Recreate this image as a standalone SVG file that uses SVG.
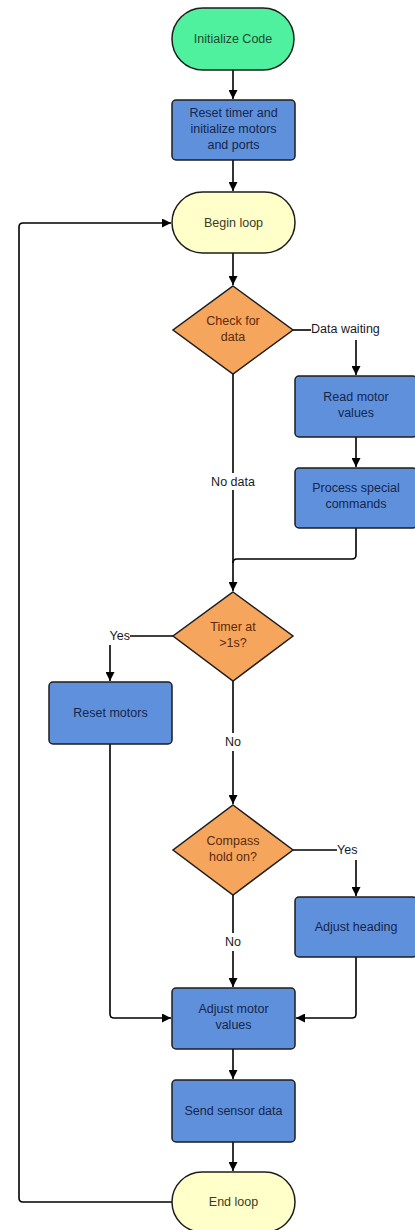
<svg xmlns="http://www.w3.org/2000/svg" width="415" height="1230" viewBox="0 0 415 1230">
  <defs>
    <marker id="arrow" viewBox="0 0 10 10" refX="10" refY="5" markerWidth="9" markerHeight="9" markerUnits="userSpaceOnUse" orient="auto">
      <path d="M0,0 L10,5 L0,10 Z" fill="#000"/>
    </marker>
    <style>
      .node text { font-family: "Liberation Sans", Arial, sans-serif; font-size: 12.5px; text-anchor: middle; }
      .term-start { fill: #4ff09e; stroke: #1d1d1d; stroke-width: 1.5; }
      .term-loop { fill: #ffffc9; stroke: #1d1d1d; stroke-width: 1.5; }
      .proc { fill: #5f90db; stroke: #1d1d1d; stroke-width: 1.5; }
      .dec { fill: #f6a55d; stroke: #1d1d1d; stroke-width: 1.5; }
      .t-green { fill: #1f4a30; }
      .t-blue { fill: #15264d; }
      .t-orange { fill: #5a2a0a; }
      .t-yellow { fill: #3a3a2a; }
      .conn path { fill: none; stroke: #000; stroke-width: 1.6; }
      .conn .arr { marker-end: url(#arrow); }
      .lbl { font-family: "Liberation Sans", Arial, sans-serif; font-size: 12.5px; fill: #1a1a1a; }
      .mid { text-anchor: middle; }
      .start { text-anchor: start; }
      .end { text-anchor: end; }
    </style>
  </defs>
  <rect width="415" height="1230" fill="#ffffff"/>

  <g id="connectors" class="conn">
    <path class="arr" d="M233,70 V99"/>
    <path class="arr" d="M233,160 V191"/>
    <path class="arr" d="M233,253 V285"/>
    <path d="M293,330 H311"/>
    <path class="arr" d="M356,340 V375"/>
    <path class="arr" d="M356,437 V467"/>
    <path d="M233,374 V473"/>
    <path d="M233,490 V559"/>
    <path d="M356,528 V555 Q356,559 352,559 H237 Q233,559 233,563"/>
    <path class="arr" d="M233,559 V591"/>
    <path d="M173,636 H130"/>
    <path class="arr" d="M110,645 V681"/>
    <path d="M233,681 V733"/>
    <path class="arr" d="M233,751 V804"/>
    <path d="M293,850 H337"/>
    <path class="arr" d="M356,860 V896"/>
    <path d="M233,895 V933"/>
    <path class="arr" d="M233,951 V987"/>
    <path class="arr" d="M110,744 V1014 Q110,1018 114,1018 H171"/>
    <path class="arr" d="M356,957 V1014 Q356,1018 352,1018 H296"/>
    <path class="arr" d="M233,1049 V1079"/>
    <path class="arr" d="M233,1142 V1171"/>
    <path class="arr" d="M172,1202 H23 Q19,1202 19,1198 V227 Q19,223 23,223 H171"/>
  </g>

  <g id="edge-labels">
    <text class="lbl start" x="311" y="333">Data waiting</text>
    <text class="lbl mid" x="233" y="486">No data</text>
    <text class="lbl end" x="130" y="640">Yes</text>
    <text class="lbl mid" x="233" y="746">No</text>
    <text class="lbl start" x="337" y="854">Yes</text>
    <text class="lbl mid" x="233" y="946">No</text>
  </g>

  <g id="initialize-code" class="node">
    <rect class="term-start" x="172" y="8" width="122" height="62" rx="31"/>
    <text class="t-green" x="233" y="43">Initialize Code</text>
  </g>

  <g id="reset-timer" class="node">
    <rect class="proc" x="172" y="100" width="123" height="60" rx="4"/>
    <text class="t-blue" x="233.5" y="117">Reset timer and</text>
    <text class="t-blue" x="233.5" y="133">initialize motors</text>
    <text class="t-blue" x="233.5" y="149">and ports</text>
  </g>

  <g id="begin-loop" class="node">
    <rect class="term-loop" x="172" y="192" width="123" height="61" rx="30.5"/>
    <text class="t-yellow" x="233.5" y="227">Begin loop</text>
  </g>

  <g id="check-data" class="node">
    <polygon class="dec" points="233,286 293,330 233,374 173,330"/>
    <text class="t-orange" x="233" y="325">Check for</text>
    <text class="t-orange" x="233" y="341">data</text>
  </g>

  <g id="read-motor" class="node">
    <rect class="proc" x="295" y="376" width="122" height="61" rx="4"/>
    <text class="t-blue" x="356" y="401">Read motor</text>
    <text class="t-blue" x="356" y="417">values</text>
  </g>

  <g id="process-special" class="node">
    <rect class="proc" x="295" y="468" width="122" height="60" rx="4"/>
    <text class="t-blue" x="356" y="492">Process special</text>
    <text class="t-blue" x="356" y="508">commands</text>
  </g>

  <g id="timer-check" class="node">
    <polygon class="dec" points="233,592 293,636 233,681 173,636"/>
    <text class="t-orange" x="233" y="631">Timer at</text>
    <text class="t-orange" x="233" y="647">&gt;1s?</text>
  </g>

  <g id="reset-motors" class="node">
    <rect class="proc" x="49" y="682" width="123" height="62" rx="4"/>
    <text class="t-blue" x="110.5" y="717">Reset motors</text>
  </g>

  <g id="compass-hold" class="node">
    <polygon class="dec" points="233,805 293,850 233,895 173,850"/>
    <text class="t-orange" x="233" y="845">Compass</text>
    <text class="t-orange" x="233" y="861">hold on?</text>
  </g>

  <g id="adjust-heading" class="node">
    <rect class="proc" x="295" y="897" width="122" height="60" rx="4"/>
    <text class="t-blue" x="356" y="931">Adjust heading</text>
  </g>

  <g id="adjust-motor" class="node">
    <rect class="proc" x="172" y="988" width="123" height="61" rx="4"/>
    <text class="t-blue" x="233.5" y="1013">Adjust motor</text>
    <text class="t-blue" x="233.5" y="1029">values</text>
  </g>

  <g id="send-sensor" class="node">
    <rect class="proc" x="172" y="1080" width="123" height="62" rx="4"/>
    <text class="t-blue" x="233.5" y="1115">Send sensor data</text>
  </g>

  <g id="end-loop" class="node">
    <rect class="term-loop" x="172" y="1172" width="123" height="60" rx="30"/>
    <text class="t-yellow" x="233.5" y="1206">End loop</text>
  </g>
</svg>
